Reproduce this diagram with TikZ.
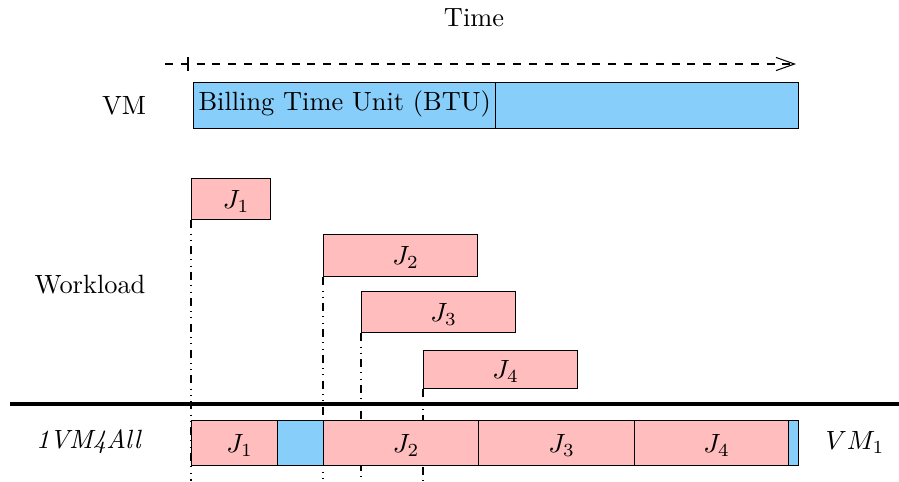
\documentclass[tikz,border=0pt]{standalone}
\usetikzlibrary{arrows.meta,backgrounds}
\definecolor{btublue}{RGB}{135,206,250}
\definecolor{jobpink}{RGB}{255,189,189}
\begin{document}
\begin{tikzpicture}[x=0.379pt,y=-0.379pt,
  box/.style={draw, line width=0.5pt, inner sep=0pt, anchor=north west},
  job/.style={box, fill=jobpink},
  idle/.style={box, fill=btublue},
  jl/.style={xshift=1.9pt, yshift=-0.8pt},
  guide/.style={dash dot dot, line width=0.5pt},
  lbl/.style={inner sep=0pt}]
\useasboundingbox (0,0) rectangle (899,481);
% time axis
\node[lbl] (time) at (474,18) {Time};
\coordinate (ta) at (165,64);
\coordinate (tb) at (796,64);
\draw[dashed, -{Straight Barb[length=7pt,width=5pt]}] (ta) -- (tb);
\coordinate (tk1) at (188,57);
\coordinate (tk2) at (188,71);
\draw (tk1) -- (tk2);
% VM row
\node[lbl] (vm) at (124,106) {VM};
\node[idle, minimum width={302*0.379pt}, minimum height={46*0.379pt}] (btu1) at (193,82) {};
\node[lbl, anchor=west] (btutext) at (198,104) {Billing Time Unit (BTU)};
\node[idle, minimum width={303*0.379pt}, minimum height={46*0.379pt}] (btu2) at (495,82) {};
% workload
\node[lbl] (wl) at (90,285) {Workload};
\node[job, minimum width={79*0.379pt}, minimum height={41*0.379pt}] (j1) at (191,178) {};
\node[jl] at (j1.center) {$J_1$};
\node[job, minimum width={154*0.379pt}, minimum height={42*0.379pt}] (j2) at (323,234) {};
\node[jl] at (j2.center) {$J_2$};
\node[job, minimum width={154*0.379pt}, minimum height={41*0.379pt}] (j3) at (361,291) {};
\node[jl] at (j3.center) {$J_3$};
\node[job, minimum width={154*0.379pt}, minimum height={38*0.379pt}] (j4) at (423,350) {};
\node[jl] at (j4.center) {$J_4$};
% separator
\coordinate (sa) at (10,404);
\coordinate (sb) at (899,404);
\draw[line width=1.2pt] (sa) -- (sb);
% schedule row
\node[lbl] (name) at (89,442) {\textit{1VM4All}};
\node[lbl] (vm1) at (855,442) {$VM_1$};
\node[job, minimum width={86*0.379pt}, minimum height={45*0.379pt}] (s1) at (191,420) {};
\node[jl] at (s1.center) {$J_1$};
\node[idle, minimum width={46*0.379pt}, minimum height={45*0.379pt}] (g1) at (277,420) {};
\node[job, minimum width={155*0.379pt}, minimum height={45*0.379pt}] (s2) at (323,420) {};
\node[jl] at (s2.center) {$J_2$};
\node[job, minimum width={156*0.379pt}, minimum height={45*0.379pt}] (s3) at (478,420) {};
\node[jl] at (s3.center) {$J_3$};
\node[job, minimum width={154*0.379pt}, minimum height={45*0.379pt}] (s4) at (634,420) {};
\node[jl] at (s4.center) {$J_4$};
\node[idle, minimum width={10*0.379pt}, minimum height={45*0.379pt}] (g2) at (788,420) {};
% guide lines (behind the boxes)
\coordinate (e1) at (191,481);
\coordinate (e2) at (323,481);
\coordinate (e3) at (361,481);
\coordinate (e4) at (423,481);
\begin{scope}[on background layer]
\draw[guide] (j1.south west) -- (e1);
\draw[guide] (j2.south west) -- (e2);
\draw[guide] (j3.south west) -- (e3);
\draw[guide] (j4.south west) -- (e4);
\end{scope}
\end{tikzpicture}
\end{document}
